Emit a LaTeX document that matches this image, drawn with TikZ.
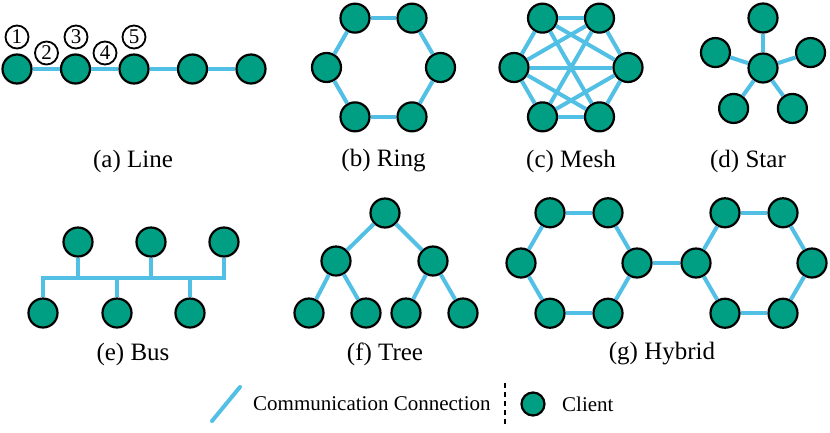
\documentclass[tikz,border=0pt]{standalone}
\usepackage{fontspec}
\setmainfont{Liberation Serif}
\newfontfamily\figfont{Liberation Serif}
\usetikzlibrary{positioning,calc}
\definecolor{clientgreen}{RGB}{0,158,130}
\definecolor{linkblue}{RGB}{82,192,228}
\tikzset{
    client/.style={circle, draw=black, line width=2.2pt, fill=clientgreen, minimum size=29pt, inner sep=0pt},
    link/.style={draw=linkblue, line width=4pt},
    hopnum/.style={circle, draw=black, line width=1.8pt, fill=white, minimum size=23pt, inner sep=0pt},
    subcap/.style={font=\figfont\fontsize{25pt}{30pt}\selectfont},
    legendtext/.style={anchor=west, inner sep=0pt}
}
\begin{document}
\begin{tikzpicture}[x=1pt, y=-1pt, font=\figfont\fontsize{21pt}{25pt}\selectfont]
    \useasboundingbox (0,0) rectangle (830,432);

    % (a) Line
    \foreach \i/\x in {1/17, 2/75.5, 3/134, 4/192.5, 5/251} {
        \node[client] (a\i) at (\x,69) {};
    }
    \foreach \i/\j in {1/2, 2/3, 3/4, 4/5} {
        \draw[link] (a\i) -- (a\j);
    }
    \foreach \i/\x/\y in {1/17/37, 2/46.5/53, 3/76/37, 4/105/53, 5/134/37} {
        \node[hopnum] (n\i) at (\x,\y) {\i};
    }
    \node[subcap] (capa) at (133,161) {(a) Line};

    % (b) Ring
    \foreach \i in {0,...,5} {
        \node[client] (b\i) at ($(383.5,67.5)+(\i*60:57)$) {};
    }
    \foreach \i/\j in {0/1, 1/2, 2/3, 3/4, 4/5, 5/0} {
        \draw[link] (b\i) -- (b\j);
    }
    \node[subcap] (capb) at (383.5,161) {(b) Ring};

    % (c) Mesh (no vertical links)
    \foreach \i in {0,...,5} {
        \node[client] (c\i) at ($(571,67.5)+(\i*60:57)$) {};
    }
    \foreach \i/\j in {0/1, 0/2, 0/3, 0/4, 0/5, 1/2, 1/3, 1/4, 2/3, 2/5, 3/4, 3/5, 4/5} {
        \draw[link] (c\i) -- (c\j);
    }
    \node[subcap] (capc) at (571,161) {(c) Mesh};

    % (d) Star
    \node[client] (d0) at (763,68) {};
    \foreach \i/\a in {1/-90, 2/-18, 3/54, 4/126, 5/198} {
        \node[client] (d\i) at ($(d0)+(\a:50)$) {};
        \draw[link] (d0) -- (d\i);
    }
    \node[subcap] (capd) at (748,161) {(d) Star};

    % (e) Bus
    \foreach \i/\x in {1/78, 2/151, 3/224} {
        \node[client] (et\i) at (\x,242) {};
    }
    \foreach \i/\x in {1/43, 2/117, 3/190} {
        \node[client] (eb\i) at (\x,313) {};
    }
    \coordinate (busR) at (224,278);
    \draw[link] (eb1) |- (busR) -- (et3);
    \draw[link] (et1) -- (et1 |- busR);
    \draw[link] (et2) -- (et2 |- busR);
    \draw[link] (eb2) -- (eb2 |- busR);
    \draw[link] (eb3) -- (eb3 |- busR);
    \node[subcap] (cape) at (133,354) {(e) Bus};

    % (f) Tree
    \node[client] (f0) at (385,213) {};
    \node[client] (f1) at (336,261) {};
    \node[client] (f2) at (433,261) {};
    \foreach \i/\x in {3/309, 4/366, 5/406, 6/463} {
        \node[client] (f\i) at (\x,313) {};
    }
    \foreach \i/\j in {0/1, 0/2, 1/3, 1/4, 2/5, 2/6} {
        \draw[link] (f\i) -- (f\j);
    }
    \node[subcap] (capf) at (385,354) {(f) Tree};

    % (g) Hybrid
    \foreach \i in {0,...,5} {
        \node[client] (gl\i) at ($(579,263)+(\i*60:58)$) {};
        \node[client] (gr\i) at ($(754,263)+(\i*60:58)$) {};
    }
    \foreach \i/\j in {0/1, 1/2, 2/3, 3/4, 4/5, 5/0} {
        \draw[link] (gl\i) -- (gl\j);
        \draw[link] (gr\i) -- (gr\j);
    }
    \draw[link] (gl0) -- (gr3);
    \node[subcap] (capg) at (662,354) {(g) Hybrid};

    % Legend
    \coordinate (legA) at (212,421);
    \coordinate (legB) at (240,387);
    \draw[link, line cap=round] (legA) -- (legB);
    \node[legendtext] (legconn) at (253,404) {Communication Connection};
    \coordinate (divT) at (505,383);
    \coordinate (divB) at (505,426);
    \draw[line width=2.2pt, dash pattern=on 5pt off 4pt] (divT) -- (divB);
    \node[client, minimum size=23pt] (legclient) at (533,404) {};
    \node[legendtext] (legcl) at (562,404) {Client};
\end{tikzpicture}
\end{document}
